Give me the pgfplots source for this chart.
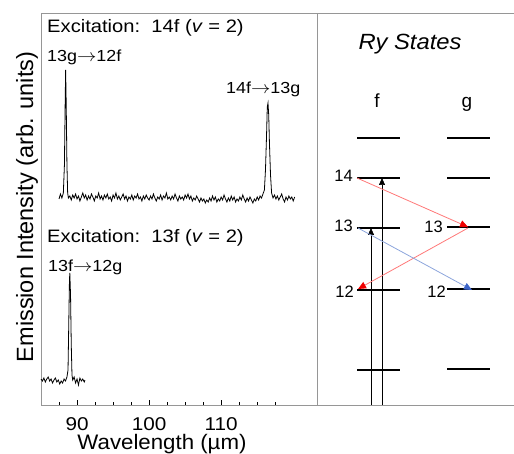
\documentclass[border=0pt]{standalone}
\usepackage{fontspec}
\setmainfont{Liberation Sans}
\usepackage{pgfplots}
\pgfplotsset{compat=1.18}
\usetikzlibrary{arrows.meta}
\definecolor{framegray}{RGB}{150,150,150}
\definecolor{lred}{RGB}{255,120,120}
\definecolor{hred}{RGB}{240,0,0}
\definecolor{lblue}{RGB}{140,165,220}
\definecolor{hblue}{RGB}{60,100,200}
\begin{document}
\begin{tikzpicture}[x=1pt,y=1pt]
\path[use as bounding box] (0,0) rectangle (514,453);
\begin{axis}[at={(41pt,48pt)}, anchor=south west, scale only axis,
  width=276pt, height=391pt, xmin=85, xmax=123.3, ymin=0, ymax=391,
  ytick=\empty, xtick={90,100,110}, minor xtick={87.5,90,...,117.5},
  tick align=inside, xtick pos=bottom,
  axis line style={draw=framegray, line width=1pt},
  major tick length=5pt, minor tick length=3.5pt,
  every tick/.style={black, line width=0.8pt},
  xticklabel style={font=\fontsize{18.5}{20}\selectfont, xscale=1.12, anchor=base, yshift=-25pt, inner sep=0pt},
  /pgf/number format/assume math mode=true, clip=false]
\addplot[black, line width=0.8pt] coordinates {
(87.5,206) (87.7,211) (87.9,207) (88.1,212) (88.25,240) (88.35,300) (88.42,335)
(88.5,300) (88.6,240) (88.7,212) (88.8,207) (89.0,209) (89.2,205) (89.4,210)
(89.6,207) (89.8,211) (90.0,206) (90.2,209) (90.4,204) (90.6,208) (90.8,212)
(91.0,207) (91.2,210) (91.4,205) (91.6,209) (91.8,206) (92.0,211) (92.2,208)
(92.4,204) (92.6,209) (92.8,207) (93.0,212) (93.2,206) (93.4,209) (93.6,205)
(93.8,210) (94.0,207) (94.2,211) (94.4,206) (94.6,208) (94.8,204) (95.0,210)
(95.2,207) (95.4,212) (95.6,206) (95.8,209) (96.0,205) (96.2,208) (96.4,211)
(96.6,206) (96.8,209) (97.0,204) (97.2,208) (97.4,206) (97.6,210) (97.8,205)
(98.0,209) (98.2,207) (98.4,211) (98.6,206) (98.8,208) (99.0,204) (99.2,209)
(99.4,206) (99.6,210) (99.8,207) (100.0,205) (100.2,209) (100.4,206) (100.6,211)
(100.8,207) (101.0,204) (101.2,208) (101.4,206) (101.6,210) (101.8,205) (102.0,209)
(102.2,207) (102.4,212) (102.6,206) (102.8,208) (103.0,205) (103.2,209) (103.4,206)
(103.6,211) (103.8,207) (104.0,204) (104.2,209) (104.4,206) (104.6,208) (104.8,205)
(105.0,210) (105.2,207) (105.4,211) (105.6,206) (105.8,209) (106.0,204) (106.2,207)
(106.4,205) (106.6,209) (106.8,206) (107.0,203) (107.2,207) (107.4,204) (107.6,206)
(107.8,202) (108.0,205) (108.2,203) (108.4,207) (108.6,204) (108.8,209) (109.0,205)
(109.2,208) (109.4,203) (109.6,206) (109.8,204) (110.0,208) (110.2,205) (110.4,210)
(110.6,206) (110.8,203) (111.0,207) (111.2,204) (111.4,209) (111.6,205) (111.8,208)
(112.0,203) (112.2,206) (112.4,204) (112.6,208) (112.8,205) (113.0,210) (113.2,206)
(113.4,203) (113.6,207) (113.8,204) (114.0,208) (114.2,205) (114.4,202) (114.6,206)
(114.8,204) (115.0,208) (115.2,205) (115.4,209) (115.6,207) (115.8,211) (116.0,215)
(116.15,235) (116.3,270) (116.4,298) (116.5,302) (116.6,290) (116.7,262) (116.85,230)
(117.0,212) (117.2,207) (117.4,210) (117.6,206) (117.8,209) (118.0,205) (118.2,208)
(118.4,211) (118.6,206) (118.8,203) (119.0,208) (119.2,205) (119.4,209) (119.6,206)
(119.8,208) (120.0,204) (120.2,208)};
\addplot[black, line width=0.8pt] coordinates {
(85.0,26) (85.2,24) (85.4,27) (85.6,23) (85.8,26) (86.0,28) (86.2,24) (86.4,26)
(86.6,22) (86.8,25) (87.0,27) (87.2,23) (87.4,25) (87.6,21) (87.8,24) (88.0,22)
(88.2,26) (88.4,24) (88.6,28) (88.75,35) (88.85,80) (88.95,125) (89.0,132)
(89.1,110) (89.2,60) (89.3,30) (89.4,25) (89.6,28) (89.8,22) (90.0,26) (90.2,20)
(90.4,27) (90.6,24) (90.8,26) (91.0,23) (91.1,25)};
\end{axis}
\begin{axis}[at={(317pt,48pt)}, anchor=south west, scale only axis,
  width=197pt, height=391pt, xmin=317, xmax=514, ymin=0, ymax=391,
  hide axis, clip=false]
\draw[framegray, line width=1pt] (rel axis cs:0,0) -- (rel axis cs:1,0);
\draw[framegray, line width=1pt] (rel axis cs:0,1) -- (rel axis cs:1,1);
% f levels
\addplot[black, line width=2pt] coordinates {(357,267) (400,267)};
\addplot[black, line width=2pt] coordinates {(357,227) (400,227)};
\addplot[black, line width=2pt] coordinates {(357,177) (400,177)};
\addplot[black, line width=2pt] coordinates {(357,115) (400,115)};
\addplot[black, line width=2pt] coordinates {(357,35) (400,35)};
% g levels
\addplot[black, line width=2pt] coordinates {(447,267) (490,267)};
\addplot[black, line width=2pt] coordinates {(447,227) (490,227)};
\addplot[black, line width=2pt] coordinates {(447,178) (490,178)};
\addplot[black, line width=2pt] coordinates {(447,116) (490,116)};
\addplot[black, line width=2pt] coordinates {(447,36) (490,36)};
% excitation arrows
\addplot[black, line width=0.7pt, -{Triangle[length=7pt,width=6pt]}] coordinates {(371,0) (371,177)};
\addplot[black, line width=0.7pt, -{Triangle[length=7pt,width=6pt]}] coordinates {(382,0) (382,227)};
% emission arrows
\addplot[lred, line width=0.8pt, -{Triangle[length=8pt,width=7pt,color=hred]}] coordinates {(357,227) (468,178)};
\addplot[lred, line width=0.8pt, -{Triangle[length=8pt,width=7pt,color=hred]}] coordinates {(468,177) (358,116)};
\addplot[lblue, line width=0.8pt, -{Triangle[length=8pt,width=7pt,color=hblue]}] coordinates {(358,177) (472,115)};
\end{axis}
% texts
\node[anchor=base west, inner sep=0pt, xscale=1.12, font=\fontsize{18}{20}\selectfont] at (47,420) {Excitation:\ \ 14f (\textit{v} = 2)};
\node[anchor=base west, inner sep=0pt, xscale=1.12, font=\fontsize{16}{18}\selectfont] at (47,391) {13g$\rightarrow$12f};
\node[anchor=base west, inner sep=0pt, xscale=1.12, font=\fontsize{16}{18}\selectfont] at (226,359) {14f$\rightarrow$13g};
\node[anchor=base west, inner sep=0pt, xscale=1.12, font=\fontsize{18}{20}\selectfont] at (47,210) {Excitation:\ \ 13f (\textit{v} = 2)};
\node[anchor=base west, inner sep=0pt, xscale=1.12, font=\fontsize{16}{18}\selectfont] at (48,182) {13f$\rightarrow$12g};
\node[anchor=base, rotate=90, inner sep=0pt, font=\fontsize{23.5}{25}\selectfont] at (33,246) {Emission Intensity (arb. units)};
\node[anchor=base, inner sep=0pt, xscale=1.06, font=\fontsize{21}{23}\selectfont] at (162,4) {Wavelength (µm)};
\node[anchor=base, inner sep=0pt, xscale=1.08, font=\fontsize{22}{24}\selectfont\itshape] at (410,403) {Ry States};
\node[anchor=base, inner sep=0pt, font=\fontsize{19}{21}\selectfont] at (377,345) {f};
\node[anchor=base, inner sep=0pt, font=\fontsize{19}{21}\selectfont] at (467,345) {g};
\node[anchor=base east, inner sep=0pt, font=\fontsize{16.5}{18}\selectfont] at (353,271) {14};
\node[anchor=base east, inner sep=0pt, font=\fontsize{16.5}{18}\selectfont] at (353,221) {13};
\node[anchor=base east, inner sep=0pt, font=\fontsize{16.5}{18}\selectfont] at (354,156) {12};
\node[anchor=base east, inner sep=0pt, font=\fontsize{16.5}{18}\selectfont] at (443,220) {13};
\node[anchor=base east, inner sep=0pt, font=\fontsize{16.5}{18}\selectfont] at (446,156) {12};
\end{tikzpicture}
\end{document}
